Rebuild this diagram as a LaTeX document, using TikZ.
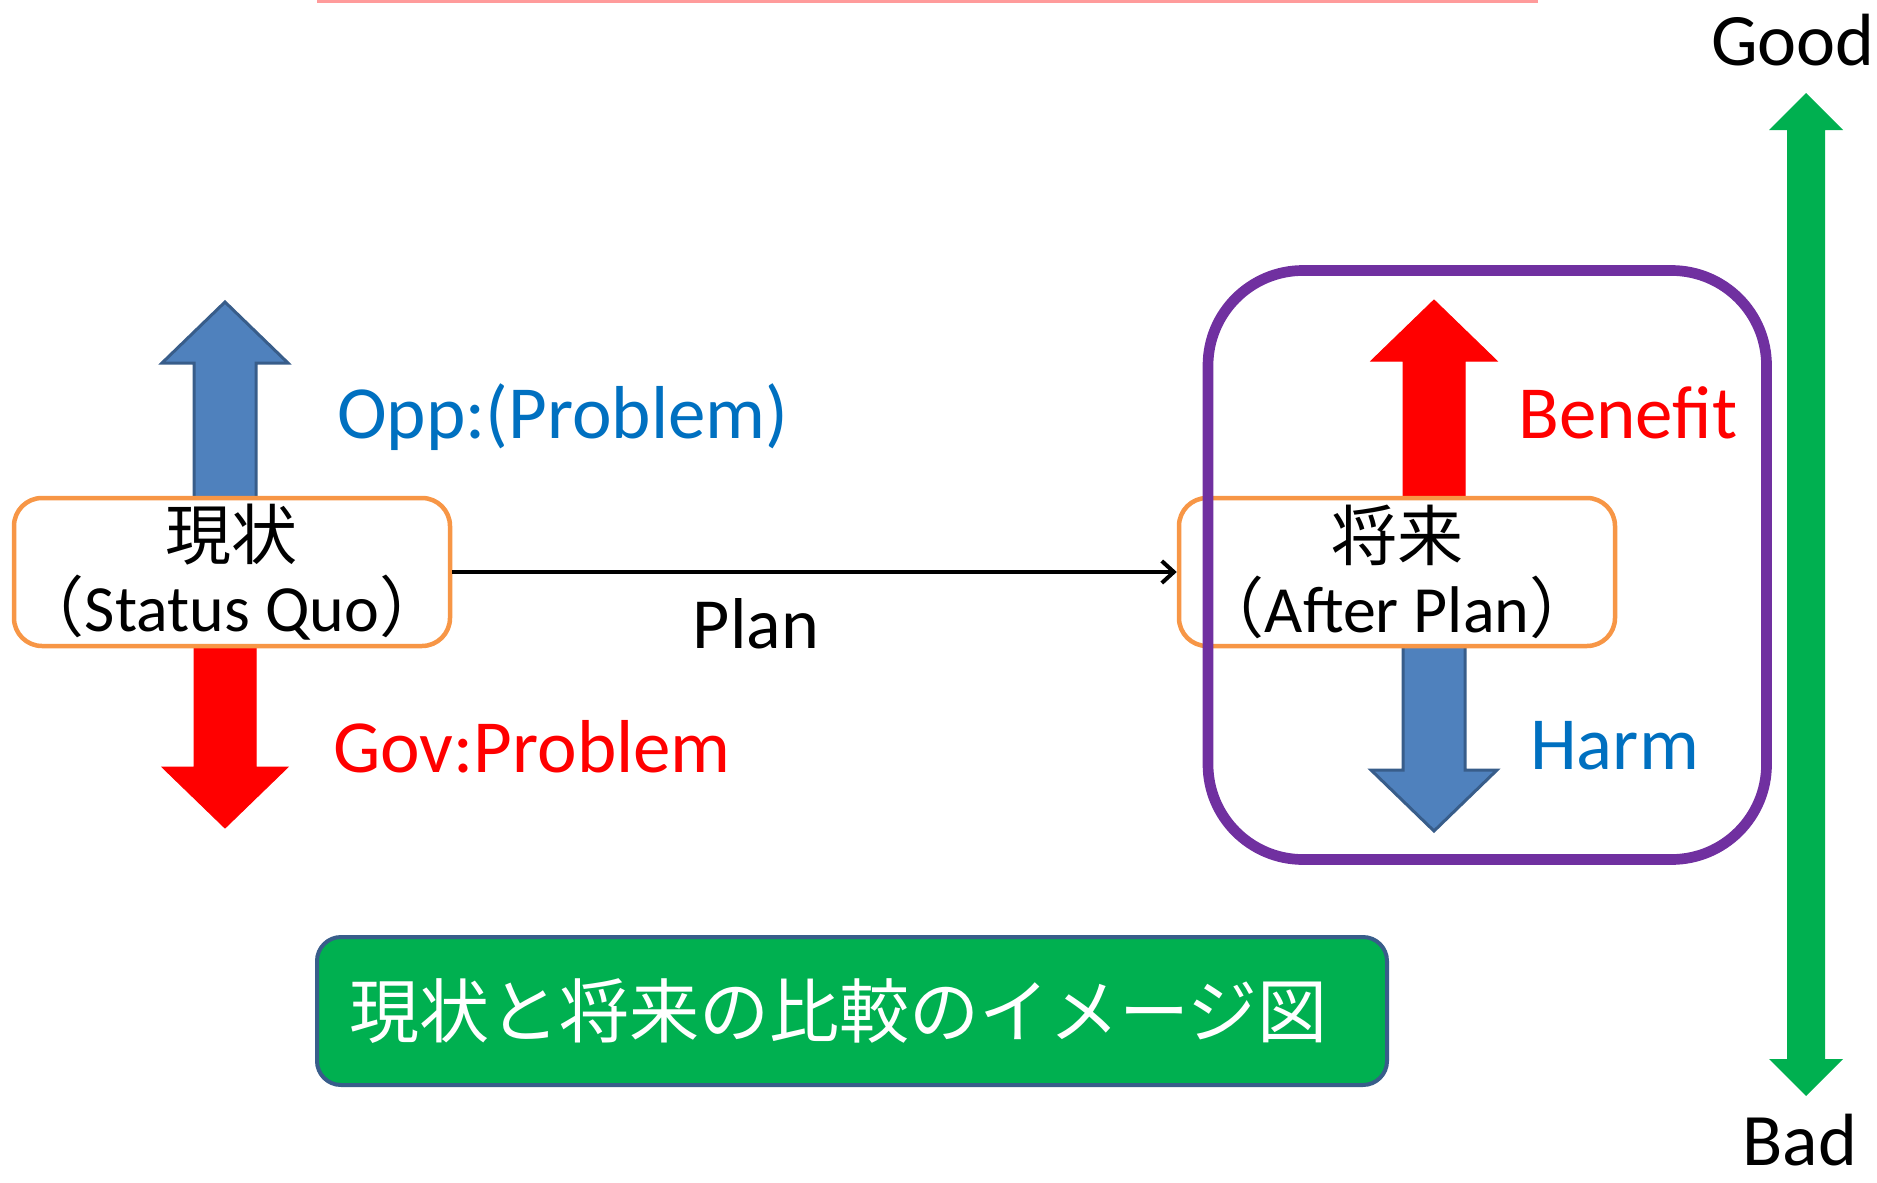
\documentclass[tikz,border=0pt]{standalone}
\usepackage{fontspec}
\setmainfont{Carlito}
\newfontfamily\jp{Noto Sans CJK JP}
\usetikzlibrary{arrows.meta}
\definecolor{arrblue}{HTML}{4F81BD}
\definecolor{arrblueline}{HTML}{385D8A}
\definecolor{boxorange}{HTML}{F79646}
\definecolor{framepurple}{HTML}{7030A0}
\definecolor{bargreen}{HTML}{00B050}
\definecolor{txtblue}{HTML}{0070C0}
\definecolor{topline}{HTML}{FF9B9B}
\tikzset{
  statebox/.style={draw=boxorange,line width=4.5pt,fill=white,rounded corners=28pt,
    minimum width=436pt,minimum height=148pt,align=center,inner sep=0pt,
    font=\fontsize{66}{72}\selectfont},
  lbl/.style={anchor=west,inner sep=0pt,font=\fontsize{75}{80}\selectfont},
  scalelbl/.style={inner sep=0pt,font=\fontsize{74}{80}\selectfont},
  bluearr/.style={fill=arrblue,draw=arrblueline,line width=3pt},
  redarr/.style={fill=red,draw=red,line width=1pt},
  planarr/.style={line width=4.5pt,-{Straight Barb[length=12pt,width=22pt,line width=4pt]}},
}
\begin{document}
\begin{tikzpicture}[x=1pt,y=-1pt]
\useasboundingbox (0,0) rectangle (1877,1183);
\def\sh{31};
\def\hh{63};
\def\hl{61};
\def\gx{1806};
\draw[topline,line width=3pt] (317,1) -- (1538,1);
%block arrows
\foreach\cx/\yb/\yt/\d/\st in {225/540/302/1/bluearr,1434/540/300/1/redarr,225/600/828/-1/redarr,1434/600/831/-1/bluearr} {
  \draw[\st] (\cx-\sh,\yb) -- (\cx-\sh,\yt+\d*\hl) -- (\cx-\hh,\yt+\d*\hl) -- (\cx,\yt)
    -- (\cx+\hh,\yt+\d*\hl) -- (\cx+\sh,\yt+\d*\hl) -- (\cx+\sh,\yb) -- cycle;
}
%boxes
\node[statebox] (sq) at (232,572) {{\jp 現状}\\{\jp （}Status Quo{\jp ）}};
\node[statebox] (ap) at (1397,572) {{\jp 将来}\\{\jp （}After Plan{\jp ）}};
\draw[planarr] (sq.east) -- (ap.west);
\node[inner sep=0pt,font=\fontsize{72}{80}\selectfont] (plan) at (756,624) {Plan};
\draw[framepurple,line width=10.7pt,rounded corners=95pt] (1208,270.5) rectangle (1766.5,859.5);
%labels
\node[lbl,txtblue] (opp) at (337,417) {Opp:(Problem)};
\node[lbl,red] (gov) at (333,747) {Gov:Problem};
\node[lbl,red] (benefit) at (1518,413) {Benefit};
\node[lbl,txtblue] (harm) at (1530,746) {Harm};
%good-bad scale
\fill[bargreen] (\gx,93) -- (\gx+37,130) -- (\gx+19,130) -- (\gx+19,1059) -- (\gx+37,1059) -- (\gx,1096)
  -- (\gx-37,1059) -- (\gx-19,1059) -- (\gx-19,130) -- (\gx-37,130) -- cycle;
\node[scalelbl] (good) at (1793,40) {Good};
\node[scalelbl] (bad) at (1800,1140) {Bad};
%title
\node[fill=bargreen,draw=arrblueline,line width=4pt,rounded corners=24pt,minimum height=148pt,
  text width=1006pt,inner sep=32pt,align=left,text=white,font=\jp\fontsize{70}{76}\selectfont]
  (title) at (852,1011) {現状と将来の比較のイメージ図};
\end{tikzpicture}
\end{document}
